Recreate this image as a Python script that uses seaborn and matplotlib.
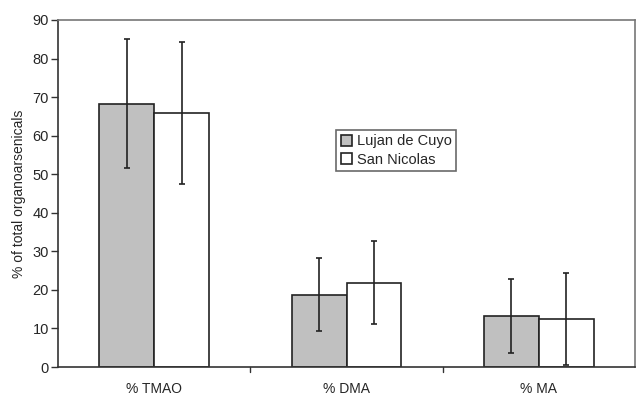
import matplotlib
matplotlib.use("Agg")
import matplotlib.pyplot as plt
import seaborn as sns
import pandas as pd
import numpy as np

categories = ["% TMAO", "% DMA", "% MA"]
sites = ["Lujan de Cuyo", "San Nicolas"]
lujan_mean = [68.2, 18.7, 13.2]
lujan_lo = [51.5, 9.3, 3.6]
lujan_hi = [85.0, 28.2, 22.8]
sn_mean = [65.9, 21.8, 12.4]
sn_lo = [47.5, 11.1, 0.4]
sn_hi = [84.3, 32.6, 24.4]

rows = []
for c, m in zip(categories, lujan_mean):
    rows.append({"cat": c, "site": sites[0], "val": m})
for c, m in zip(categories, sn_mean):
    rows.append({"cat": c, "site": sites[1], "val": m})
df = pd.DataFrame(rows)

sns.set_theme(style="white")
plt.rcParams["font.family"] = ["Liberation Sans", "DejaVu Sans"]

fig = plt.figure(figsize=(6.36, 3.96), dpi=100)
ax = fig.add_axes([0.0912, 0.0732, 0.9073, 0.8763])

sns.barplot(data=df, x="cat", y="val", hue="site", order=categories,
            hue_order=sites, palette=["#c0c0c0", "#ffffff"], width=0.57,
            edgecolor="#222222", linewidth=1.2, errorbar=None, ax=ax,
            saturation=1)

# error bars from bar centers
bars = [p for p in ax.patches if p.get_height() > 0][:6]
los = lujan_lo + sn_lo
his = lujan_hi + sn_hi
means = lujan_mean + sn_mean
for p, lo, hi, m in zip(bars, los, his, means):
    xc = p.get_x() + p.get_width() / 2
    ax.errorbar([xc], [m], yerr=[[m - lo], [hi - m]], fmt="none",
                ecolor="#222222", elinewidth=1.2, capsize=2.5, capthick=1.2)

ax.set_xlim(-0.5, 2.5)
ax.set_ylim(0, 90)
ax.set_yticks(np.arange(0, 91, 10))
ax.set_xticks([0, 1, 2])
ax.set_xticklabels(categories, fontsize=10)
ax.tick_params(axis="x", length=0, pad=11)
ax.tick_params(axis="y", labelsize=10.5, length=5, width=1, color="#333333",
               direction="out", left=True, pad=1.5)
for b in [0.5, 1.5]:
    ax.plot([b, b], [0, -1.2], color="#333333", lw=1, clip_on=False)
ax.set_xlabel("")
ax.set_ylabel("% of total organoarsenicals", fontsize=10, labelpad=5)

for s in ["left", "bottom"]:
    ax.spines[s].set_color("#333333")
    ax.spines[s].set_linewidth(1.2)
for s in ["top", "right"]:
    ax.spines[s].set_color("#777777")
    ax.spines[s].set_linewidth(1.2)

leg = ax.legend(loc="upper left", bbox_to_anchor=(0.482, 0.683),
                fontsize=10.5, frameon=True, fancybox=False, edgecolor="#444444",
                handlelength=0.8, handleheight=0.8, handletextpad=0.3,
                borderpad=0.3, labelspacing=0.3, borderaxespad=0)
leg.get_frame().set_linewidth(1.2)

fig.savefig("out.png", dpi=100)
